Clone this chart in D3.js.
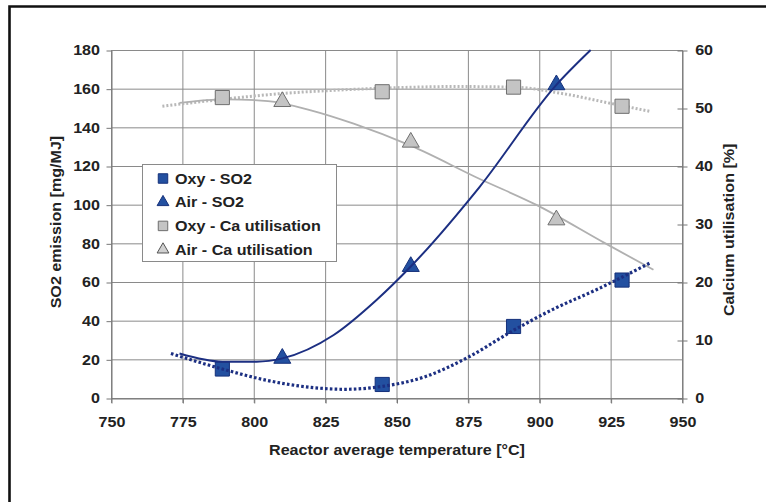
<!DOCTYPE html>
<html>
<head>
<meta charset="utf-8">
<script src="https://cdn.jsdelivr.net/npm/d3@7"></script>
<style>
  body { margin: 0; background: #fff; }
  svg text { font-family: "Liberation Sans", Arial, sans-serif; font-weight: bold; fill: #222; }
</style>
</head>
<body>
<svg id="chart" width="766" height="502"></svg>
<script>
// measured points
const oxyTemp = [789, 845, 891, 929];
const oxySO2 = [15, 7, 37, 61];
const oxyCa = [51.8, 52.8, 53.6, 50.3];
const airTemp = [810, 855, 906];
const airSO2 = [20.5, 68, 162];
const airCa = [51.1, 44.1, 30.7];

// trend lines as [temp, value]
const oxySO2Trend = [[771, 23], [789, 15], [805, 9], [820, 5.5], [832, 4.5], [845, 6], [860, 11], [875, 21], [891, 35], [905, 46], [920, 56], [939, 70]];
const airSO2Trend = [[774, 23], [789, 18.8], [801, 18.8], [810, 20.5], [828, 32.6], [843, 50.7], [855, 68], [879, 109], [906, 162], [918, 180]];
const oxyCaTrend = [[768, 50.3], [789, 51.5], [810, 52.5], [830, 53.1], [850, 53.5], [870, 53.7], [891, 53.6], [908, 52.5], [925, 50.8], [939, 49.4]];
const airCaTrend = [[774, 50.9], [790, 51.5], [805, 51.2], [820, 49.6], [835, 47.3], [855, 43.5], [879, 37.8], [899, 33.3], [923, 26.7], [940, 22.1]];

const xTicks = [750, 775, 800, 825, 850, 875, 900, 925, 950];
const leftTicks = [0, 20, 40, 60, 80, 100, 120, 140, 160, 180];
const rightTicks = [0, 10, 20, 30, 40, 50, 60];
const legendLabels = ["Oxy - SO2", "Air - SO2", "Oxy - Ca utilisation", "Air - Ca utilisation"];

const blue = "#2350a0", blueEdge = "#15307a", navy = "#1c2f82";
const grey = "#c4c4c4", greyEdge = "#6e6e6e";
const stretch = 1.15; // the scanned lettering is a bit wide

const svg = d3.select("#chart");

const x = d3.scaleLinear().domain([750, 950]).range([111, 682]);
const yL = d3.scaleLinear().domain([0, 180]).range([398, 50]);
const yR = d3.scaleLinear().domain([0, 60]).range([398, 50]);

// page frame
svg.append("path")
    .attr("d", "M9.5,502 V6.5 H766")
    .attr("fill", "none").attr("stroke", "#111").attr("stroke-width", 2.6);

// grid
const grid = svg.append("g").attr("stroke", "#8a8a8a").attr("stroke-width", 1);
grid.selectAll("line.h").data(leftTicks).join("line")
    .attr("x1", x(750)).attr("x2", x(950))
    .attr("y1", d => yL(d) + 0.5).attr("y2", d => yL(d) + 0.5);
grid.selectAll("line.v").data(xTicks).join("line")
    .attr("x1", d => x(d) + 0.5).attr("x2", d => x(d) + 0.5)
    .attr("y1", yL(180)).attr("y2", yL(0) + 5);

// axes
const left = svg.append("g").attr("transform", `translate(${x(750) + 0.5},0.5)`)
    .call(d3.axisLeft(yL).tickValues(leftTicks).tickSize(5).tickSizeOuter(0).tickPadding(5));
const right = svg.append("g").attr("transform", `translate(${x(950) + 0.5},0.5)`)
    .call(d3.axisRight(yR).tickValues(rightTicks).tickSize(5).tickSizeOuter(0).tickPadding(6));
right.selectAll(".tick line").attr("x1", -5);
const bottom = svg.append("g").attr("transform", `translate(0.5,${yL(0) + 0.5})`)
    .call(d3.axisBottom(x).tickValues(xTicks).tickSize(5).tickSizeOuter(0).tickPadding(14));

[left, right, bottom].forEach(g => {
  g.select(".domain").attr("stroke", "#777");
  g.selectAll(".tick line").attr("stroke", "#777");
  g.selectAll("text").attr("font-size", 14).attr("fill", "#222")
    .attr("font-family", "'Liberation Sans', Arial, sans-serif").attr("font-weight", "bold")
    .attr("transform", `scale(${stretch},1)`);
});

// axis titles
svg.append("text")
    .attr("transform", `translate(61,${yL(91)}) rotate(-90) scale(${stretch},1)`)
    .attr("text-anchor", "middle").attr("font-size", 14)
    .text("SO2 emission [mg/MJ]");
svg.append("text")
    .attr("transform", `translate(734,${yR(29)}) rotate(-90) scale(${stretch},1)`)
    .attr("text-anchor", "middle").attr("font-size", 14)
    .text("Calcium utilisation [%]");
svg.append("text")
    .attr("transform", `translate(397,455) scale(${stretch},1)`)
    .attr("text-anchor", "middle").attr("font-size", 14)
    .text("Reactor average temperature [°C]");

const lineL = d3.line().x(d => x(d[0])).y(d => yL(d[1])).curve(d3.curveMonotoneX);
const lineR = d3.line().x(d => x(d[0])).y(d => yR(d[1])).curve(d3.curveMonotoneX);

const square = d3.symbol().type(d3.symbolSquare).size(200);
const triangle = d3.symbol().type(d3.symbolTriangle).size(125);

// calcium trends and markers
svg.append("path").datum(oxyCaTrend).attr("d", lineR)
    .attr("fill", "none").attr("stroke", "#b8b8b8").attr("stroke-width", 3).attr("stroke-dasharray", "2 2");
svg.append("path").datum(airCaTrend).attr("d", lineR)
    .attr("fill", "none").attr("stroke", "#b0b0b0").attr("stroke-width", 1.8);

svg.append("g").selectAll("path").data(oxyTemp).join("path")
    .attr("transform", (d, i) => `translate(${x(d)},${yR(oxyCa[i])})`)
    .attr("d", square).attr("fill", grey).attr("stroke", greyEdge).attr("stroke-width", 1);
svg.append("g").selectAll("path").data(airTemp).join("path")
    .attr("transform", (d, i) => `translate(${x(d)},${yR(airCa[i])})`)
    .attr("d", triangle).attr("fill", grey).attr("stroke", greyEdge).attr("stroke-width", 1);

// SO2 markers and trends
svg.append("g").selectAll("path").data(oxyTemp).join("path")
    .attr("transform", (d, i) => `translate(${x(d)},${yL(oxySO2[i])})`)
    .attr("d", square).attr("fill", blue).attr("stroke", blueEdge).attr("stroke-width", 1);
svg.append("g").selectAll("path").data(airTemp).join("path")
    .attr("transform", (d, i) => `translate(${x(d)},${yL(airSO2[i])})`)
    .attr("d", triangle).attr("fill", blue).attr("stroke", blueEdge).attr("stroke-width", 1);

svg.append("path").datum(oxySO2Trend).attr("d", lineL)
    .attr("fill", "none").attr("stroke", navy).attr("stroke-width", 3.2).attr("stroke-dasharray", "2.6 2.2");
svg.append("path").datum(airSO2Trend).attr("d", lineL)
    .attr("fill", "none").attr("stroke", navy).attr("stroke-width", 2);

// legend
const legend = svg.append("g").attr("transform", "translate(142,164)");
legend.append("rect").attr("x", 0.5).attr("y", 0.5).attr("width", 194).attr("height", 97)
    .attr("fill", "#fff").attr("stroke", "#8a8a8a");
const legendStyles = [
  { sym: d3.symbol().type(d3.symbolSquare).size(90), fill: blue, edge: blueEdge },
  { sym: d3.symbol().type(d3.symbolTriangle).size(60), fill: blue, edge: blueEdge },
  { sym: d3.symbol().type(d3.symbolSquare).size(90), fill: grey, edge: greyEdge },
  { sym: d3.symbol().type(d3.symbolTriangle).size(60), fill: "#d0d0d0", edge: "#555" }
];
const item = legend.selectAll("g.item").data(legendLabels).join("g")
    .attr("transform", (d, i) => `translate(0,${14.5 + i * 23.7})`);
item.append("path")
    .attr("transform", "translate(21,0)")
    .attr("d", (d, i) => legendStyles[i].sym())
    .attr("fill", (d, i) => legendStyles[i].fill)
    .attr("stroke", (d, i) => legendStyles[i].edge);
item.append("text")
    .attr("transform", `translate(33,0) scale(${stretch},1)`)
    .attr("dy", "0.36em").attr("font-size", 14).text(d => d);
</script>
</body>
</html>
